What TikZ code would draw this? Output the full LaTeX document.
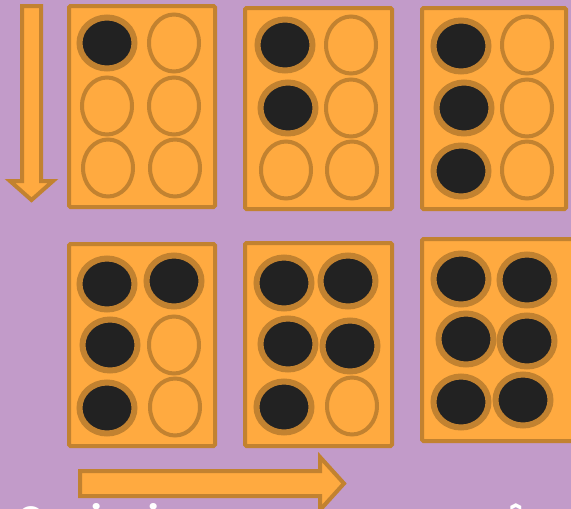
\documentclass[tikz,border=0pt]{standalone}
\usepackage{fontspec}
\setmainfont{Poppins}
\usepackage{tikz}
\usetikzlibrary{shapes.geometric}
\definecolor{bgpurple}{HTML}{C29BC9}
\definecolor{cellorange}{HTML}{FFAA40}
\definecolor{rimbrown}{HTML}{C28230}
\definecolor{dotblack}{HTML}{222222}

\begin{document}
\begin{tikzpicture}[
    x=1pt, y=-1pt,         % pixel-like units, y runs down
    cellbox/.style={
        draw=rimbrown,
        fill=cellorange,
        line width=4pt,
        rectangle,
        rounded corners=1.5pt,
        inner sep=0pt
    },
    dotempty/.style={
        draw=rimbrown,
        fill=cellorange,
        line width=4pt,
        ellipse,
        inner sep=0pt,
        minimum width=50pt,
        minimum height=57pt
    },
    dotfull/.style={
        draw=rimbrown,
        fill=dotblack,
        line width=6pt,
        ellipse,
        inner sep=0pt,
        minimum width=55pt,
        minimum height=51pt
    },
    arrowshape/.style={
        draw=rimbrown,
        fill=cellorange,
        line width=4pt,
        line join=miter
    }
]
    \fill[bgpurple] (0,0) rectangle (571,509);
    \useasboundingbox (0,0) rectangle (571,509);
    \clip (0,0) rectangle (571,509);

        % the six cells
        \node[cellbox, minimum width=146pt, minimum height=201pt] (cellA) at (142,106.5) {};
        \node[cellbox, minimum width=147pt, minimum height=201pt] (cellB) at (318.5,108.5) {};
        \node[cellbox, minimum width=144pt, minimum height=201pt] (cellC) at (494,108.5) {};
        \node[cellbox, minimum width=146pt, minimum height=202pt] (cellD) at (142,345) {};
        \node[cellbox, minimum width=147pt, minimum height=203pt] (cellE) at (318.5,344.5) {};
        \node[cellbox, minimum width=152pt, minimum height=202pt] (cellF) at (498,340) {};

        % cell A: dot 1
        \node[dotfull]  (a1) at (107,43) {};
        \node[dotempty] (a2) at (107,106) {};
        \node[dotempty] (a3) at (108,168) {};
        \node[dotempty] (a4) at (174,43) {};
        \node[dotempty] (a5) at (174,106) {};
        \node[dotempty] (a6) at (175,168) {};

        % cell B: dots 1 2
        \node[dotfull]  (b1) at (285,45) {};
        \node[dotfull]  (b2) at (288,108) {};
        \node[dotempty] (b3) at (286,170) {};
        \node[dotempty] (b4) at (351,45) {};
        \node[dotempty] (b5) at (351,108) {};
        \node[dotempty] (b6) at (352,170) {};

        % cell C: dots 1 2 3
        \node[dotfull]  (c1) at (461,46) {};
        \node[dotfull]  (c2) at (464,108) {};
        \node[dotfull]  (c3) at (461,171) {};
        \node[dotempty] (c4) at (527,45) {};
        \node[dotempty] (c5) at (527,108) {};
        \node[dotempty] (c6) at (527,170) {};

        % cell D: dots 1 2 3 4
        \node[dotfull]  (d1) at (107,284) {};
        \node[dotfull]  (d2) at (110,345) {};
        \node[dotfull]  (d3) at (107,408) {};
        \node[dotfull]  (d4) at (174,281) {};
        \node[dotempty] (d5) at (174,345) {};
        \node[dotempty] (d6) at (175,407) {};

        % cell E: dots 1 2 3 4 5
        \node[dotfull]  (e1) at (284,283) {};
        \node[dotfull]  (e2) at (288,344) {};
        \node[dotfull]  (e3) at (284,407) {};
        \node[dotfull]  (e4) at (348,281) {};
        \node[dotfull]  (e5) at (350,346) {};
        \node[dotempty] (e6) at (352,406) {};

        % cell F: dots 1 2 3 4 5 6
        \node[dotfull]  (f1) at (461,279) {};
        \node[dotfull]  (f2) at (466,339) {};
        \node[dotfull]  (f3) at (461,402) {};
        \node[dotfull]  (f4) at (527,280) {};
        \node[dotfull]  (f5) at (527,341) {};
        \node[dotfull]  (f6) at (523,400) {};

    % reading direction
    \draw[arrowshape] (22,6) -- (41,6) -- (41,181) -- (53,181) -- (31.5,200)
        -- (10,181) -- (22,181) -- cycle;
    \draw[arrowshape] (80,471) -- (320,471) -- (320,457) -- (344,483.5)
        -- (320,510) -- (320,496) -- (80,496) -- cycle;

        \node[anchor=base west, inner sep=0pt, text=white,
              font=\fontsize{35pt}{40pt}\selectfont\bfseries] (caption) at (17,531)
              {Os sinais crescem em sequência};
\end{tikzpicture}
\end{document}
